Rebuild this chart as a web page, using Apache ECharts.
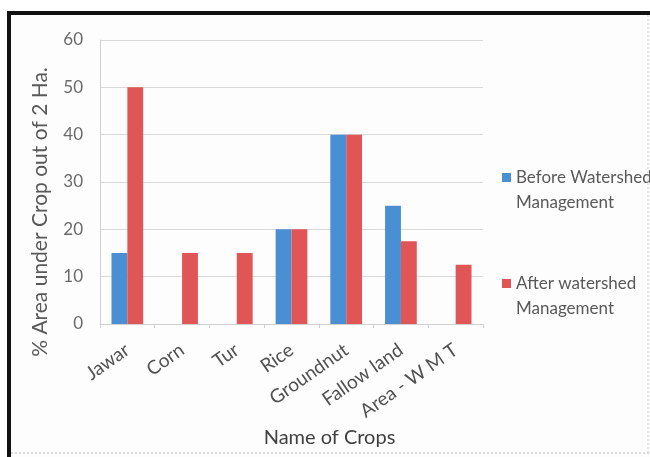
<!DOCTYPE html>
<html><head><meta charset="utf-8">
<script src="https://cdn.jsdelivr.net/npm/echarts@6/dist/echarts.min.js"></script>
<style>html,body{margin:0;padding:0;background:#fff}#c{width:650px;height:457px}</style>
</head><body><div id="c"></div>
<script>
const categories = ["Jawar", "Corn", "Tur", "Rice", "Groundnut", "Fallow land", "Area - W M T"];
const beforeValues = [15, 0, 0, 20, 40, 25, 0];
const afterValues = [50, 15, 15, 20, 40, 17.5, 12.5];
const seriesNames = ["Before Watershed\nManagement", "After watershed\nManagement"];
const yTicks = { min: 0, max: 60, interval: 10 };

const chart = echarts.init(document.getElementById('c'), null, { renderer: 'canvas' });
const font = 'Lato, "Open Sans", sans-serif';
const legendIcon = 'path://M0,0h9v9h-9z M0,34';
chart.setOption({
  backgroundColor: '#fdfdfd',
  animation: false,
  graphic: [
    { type: 'rect', shape: { x: 0, y: 0, width: 650, height: 11 }, style: { fill: '#fff' }, silent: true },
    { type: 'rect', shape: { x: 0, y: 0, width: 7, height: 457 }, style: { fill: '#fff' }, silent: true },
    { type: 'rect', shape: { x: 7, y: 11, width: 643, height: 4 }, style: { fill: '#111' }, silent: true },
    { type: 'rect', shape: { x: 7, y: 11, width: 4, height: 446 }, style: { fill: '#111' }, silent: true },
    { type: 'line', shape: { x1: 11, y1: 453, x2: 650, y2: 453 }, style: { stroke: '#bbb', lineWidth: 1, lineDash: [2, 2] }, silent: true },
    { type: 'line', shape: { x1: 648, y1: 15, x2: 648, y2: 453 }, style: { stroke: '#ccc', lineWidth: 1, lineDash: [2, 2] }, silent: true }
  ],
  grid: { left: 100, right: 167, top: 40, bottom: 133, containLabel: false },
  legend: {
    orient: 'vertical',
    left: 497,
    top: 160,
    itemGap: 56,
    itemWidth: 9,
    itemHeight: 34,
    icon: legendIcon,
    textStyle: { fontFamily: font, fontSize: 17, color: '#595959', lineHeight: 25 },
    data: seriesNames
  },
  xAxis: {
    type: 'category',
    data: categories,
    name: 'Name of Crops',
    nameLocation: 'middle',
    nameGap: 101,
    nameTextStyle: { fontFamily: font, fontSize: 20, color: '#404040', padding: [0, 0, 0, 76] },
    axisLine: { lineStyle: { color: '#d0d0d0' } },
    axisTick: { show: true, alignWithLabel: false, length: 4, lineStyle: { color: '#d0d0d0' } },
    axisLabel: { rotate: 35, fontFamily: font, fontSize: 19, color: '#505050', margin: 24, interval: 0 }
  },
  yAxis: {
    type: 'value',
    min: yTicks.min, max: yTicks.max, interval: yTicks.interval,
    name: '% Area under Crop out of 2 Ha.',
    nameLocation: 'middle',
    nameGap: 49,
    nameTextStyle: { fontFamily: font, fontSize: 21, color: '#595959', padding: [0, 60, 0, 0] },
    axisLine: { show: true, lineStyle: { color: '#d0d0d0' } },
    axisTick: { show: false },
    splitLine: { lineStyle: { color: '#d9d9d9' } },
    axisLabel: { fontFamily: font, fontSize: 17, color: '#6a6a6a', margin: 17 }
  },
  series: [
    { name: seriesNames[0], type: 'bar', data: beforeValues, barGap: '0%', barCategoryGap: '42%', itemStyle: { color: '#4a8fd4' } },
    { name: seriesNames[1], type: 'bar', data: afterValues, barGap: '0%', barCategoryGap: '42%', itemStyle: { color: '#e05555' } }
  ]
});
</script></body></html>
